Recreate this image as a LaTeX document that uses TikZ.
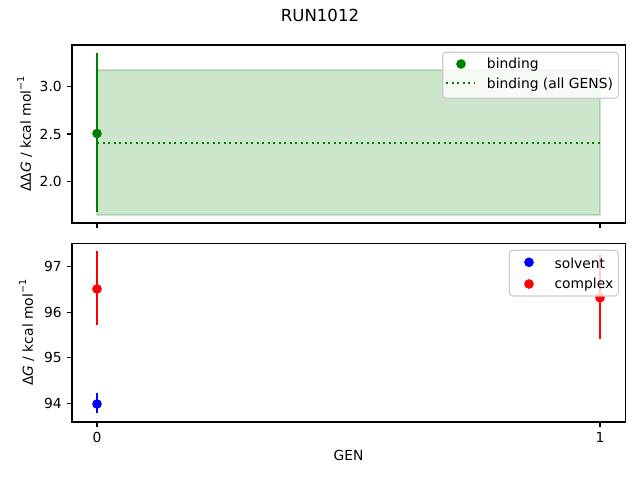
\documentclass[tikz,border=0pt]{standalone}
\usepackage{fontspec}
\setmainfont{DejaVu Sans}
\definecolor{mplgreen}{HTML}{008000}
\tikzset{
  px/.style={x=0.01in,y=-0.01in},
  spine/.style={line width=0.8pt,black},
  tickln/.style={line width=0.8pt,black},
  ylab/.style={anchor=east,inner sep=0pt,font=\fontsize{10}{12}\selectfont},
  xlab/.style={anchor=north,inner sep=0pt,font=\fontsize{10}{12}\selectfont},
  axlabel/.style={rotate=90,anchor=south,inner sep=0pt,font=\fontsize{10}{12}\selectfont},
  ebar/.style={line width=1.5pt},
  dotmk/.style={circle,inner sep=0pt,minimum size=7pt},
  legbox/.style={draw=black!20,fill=white,fill opacity=0.8,line width=0.8pt,rounded corners=2.5pt},
  legtext/.style={anchor=west,inner sep=0pt,font=\fontsize{10}{12}\selectfont},
  bandfill/.style={fill=mplgreen,fill opacity=0.2,draw=mplgreen,draw opacity=0.2,line width=1pt},
  meanline/.style={mplgreen,line width=1.5pt,dash pattern=on 1.5pt off 2.475pt},
}
\newcommand{\dG}{\textit{G}}
\newcommand{\kcalunit}{kcal mol\raisebox{0.9ex}{\fontsize{7}{8}\selectfont −1}}
\begin{document}
\begin{tikzpicture}[px]
\useasboundingbox (0,0) rectangle (640,480);
% title
\node[anchor=base,inner sep=0pt,font=\fontsize{12}{14}\selectfont] (title) at (320,22) {RUN1012};

% ===== top axes =====
\coordinate (tA) at (72,45);
\coordinate (tB) at (625.3,223);
\coordinate (b1) at (97,70);
\coordinate (b2) at (600,215);
\draw[bandfill] (b1) rectangle (b2);
\coordinate (m1) at (97,143);
\coordinate (m2) at (600,143);
\draw[meanline] (m1) -- (m2);
\coordinate (ge1) at (97,53.3);
\coordinate (ge2) at (97,211.7);
\draw[ebar,mplgreen] (ge1) -- (ge2);
\node[dotmk,fill=mplgreen] (gm) at (97,133.5) {};
\draw[spine] (tA) rectangle (tB);
\foreach \v/\y in {3.0/86.3,2.5/134,2.0/181.7}{
  \draw[tickln] (72,\y) -- (67.1,\y);
  \node[ylab] (ty\v) at (62,\y) {\v};
}
\foreach \x in {97,600}{
  \draw[tickln] (\x,223) -- (\x,227.9);
}
\node[axlabel] (tylabel) at (32.5,134) {ΔΔ\dG{} / \kcalunit};
% legend top
\draw[legbox] (442.7,52.3) rectangle (618.3,98.3);
\node[dotmk,fill=mplgreen] (lg1) at (461,64) {};
\coordinate (ld1) at (446,83.3);
\coordinate (ld2) at (475,83.3);
\draw[meanline] (ld1) -- (ld2);
\node[legtext] (lt1) at (486.7,65) {binding};
\node[legtext] (lt2) at (486.7,84.5) {binding (all GENS)};

% ===== bottom axes =====
\coordinate (bA) at (72,243.3);
\coordinate (bB) at (625.3,422);
\coordinate (se1) at (97,393.3);
\coordinate (se2) at (97,413.3);
\draw[ebar,blue] (se1) -- (se2);
\node[dotmk,fill=blue] (sm) at (97,404) {};
\coordinate (ce1) at (97,251);
\coordinate (ce2) at (97,325.3);
\draw[ebar,red] (ce1) -- (ce2);
\node[dotmk,fill=red] (cm) at (97,289) {};
\coordinate (cf1) at (600,254.3);
\coordinate (cf2) at (600,338.7);
\draw[ebar,red] (cf1) -- (cf2);
\node[dotmk,fill=red] (cmb) at (600,297.7) {};
\draw[spine] (bA) rectangle (bB);
\foreach \v/\y in {97/266.3,96/312.1,95/357.9,94/403.7}{
  \draw[tickln] (72,\y) -- (67.1,\y);
  \node[ylab] (by\v) at (62,\y) {\v};
}
\foreach \v/\x in {0/97,1/600}{
  \draw[tickln] (\x,422) -- (\x,426.9);
  \node[xlab] (bx\v) at (\x,431.8) {\v};
}
\node[axlabel] (bylabel) at (34.5,332.7) {Δ\dG{} / \kcalunit};
\node[anchor=base,inner sep=0pt,font=\fontsize{10}{12}\selectfont] (xlabel) at (348.5,460.5) {GEN};
% legend bottom
\draw[legbox] (509.3,250.3) rectangle (618.3,296);
\node[dotmk,fill=blue] (ls1) at (529,262.3) {};
\node[dotmk,fill=red] (ls2) at (529,284) {};
\node[legtext] (lst1) at (554.3,263.3) {solvent};
\node[legtext] (lst2) at (554.3,285) {complex};
\end{tikzpicture}
\end{document}
